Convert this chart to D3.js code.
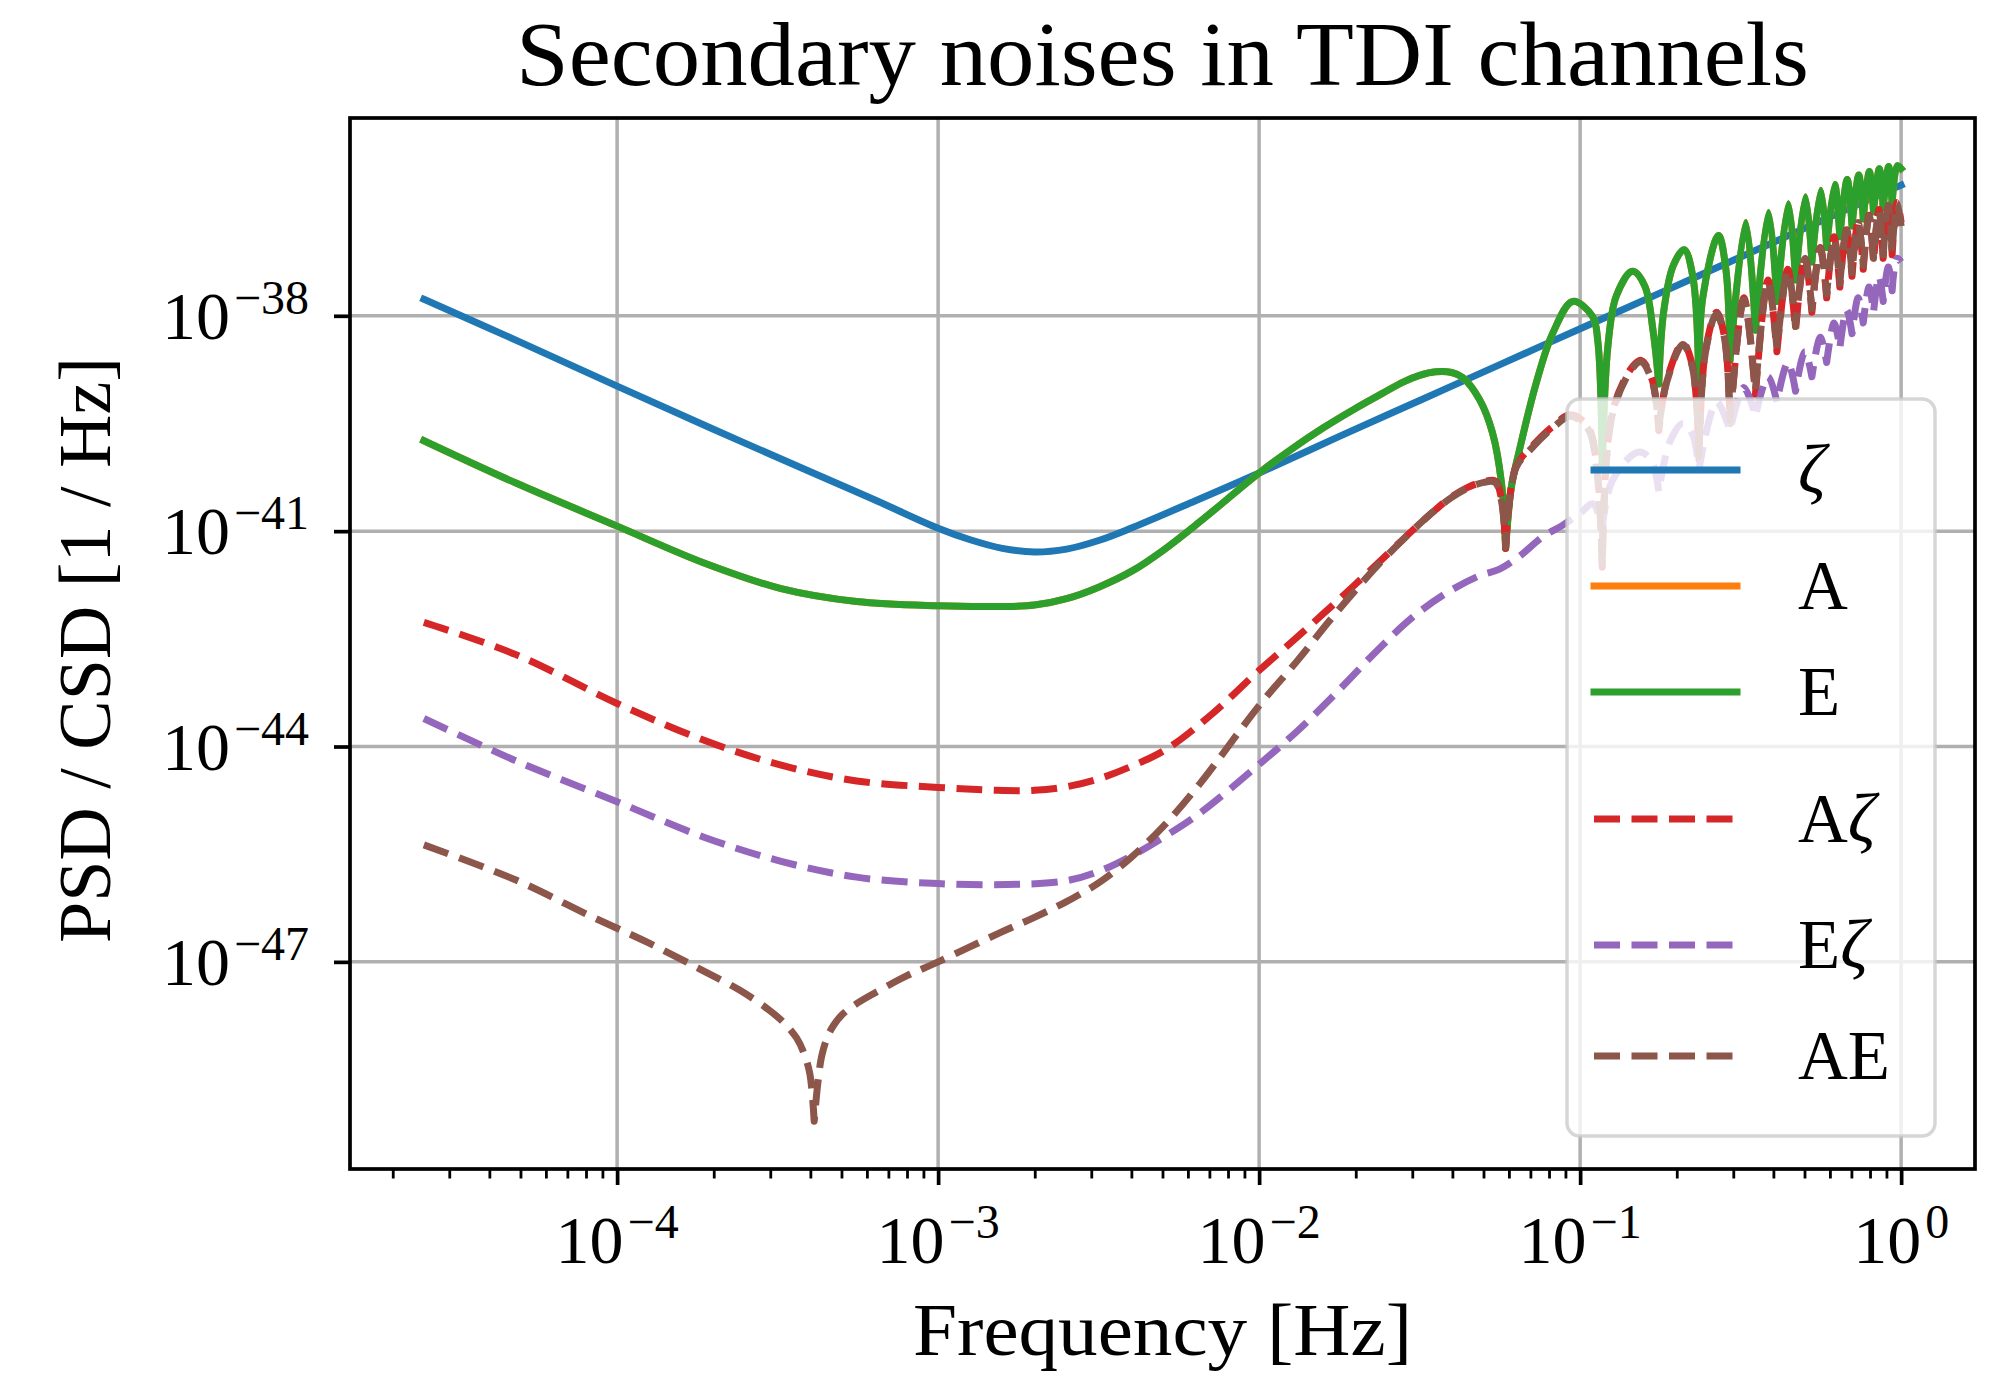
<!DOCTYPE html>
<html>
<head>
<meta charset="utf-8">
<script src="https://cdn.jsdelivr.net/npm/d3@7"></script>
<style>
  html, body { margin: 0; padding: 0; background: #ffffff; }
  svg { display: block; }
  text { font-family: "Liberation Serif", "Times New Roman", serif; fill: #000; }
</style>
</head>
<body>
<svg id="chart" width="1999" height="1376"></svg>
<script>
// ---------------------------------------------------------------
// Secondary noise PSD / CSD in the TDI channels.
// Each point is [log10(frequency / Hz), log10(PSD / (1/Hz))].
// ---------------------------------------------------------------

const psdZeta = [
  [-4.602, -37.77], [-4.30, -38.37], [-4.00, -38.98], [-3.70, -39.58],
  [-3.40, -40.17], [-3.20, -40.56], [-3.00, -40.96], [-2.90, -41.12],
  [-2.80, -41.24], [-2.70, -41.29], [-2.60, -41.25], [-2.50, -41.13],
  [-2.40, -40.96], [-2.20, -40.58], [-2.00, -40.19], [-1.75, -39.68],
  [-1.50, -39.18], [-1.25, -38.68], [-1.00, -38.18], [-0.75, -37.68],
  [-0.50, -37.18], [-0.25, -36.68], [0.00, -36.18]
];

const psdE = [
  [-4.602, -39.74], [-4.315, -40.33], [-4.00, -40.93], [-3.725, -41.45],
  [-3.489, -41.80], [-3.254, -41.98], [-3.00, -42.04], [-2.82, -42.05],
  [-2.70, -42.03], [-2.60, -41.94], [-2.50, -41.78], [-2.394, -41.55],
  [-2.30, -41.27], [-2.185, -40.87], [-2.00, -40.19], [-1.90, -39.86],
  [-1.80, -39.56], [-1.70, -39.29], [-1.616, -39.08], [-1.55, -38.92],
  [-1.50, -38.83], [-1.45, -38.78], [-1.40, -38.79], [-1.366, -38.86],
  [-1.313, -39.17], [-1.273, -39.63], [-1.245, -40.33],
  [-1.232, -41.24],
  [-1.214, -40.38], [-1.189, -39.87], [-1.137, -38.94], [-1.085, -38.24],
  [-1.023, -37.80], [-0.961, -38.01], [-0.945, -38.35],
  [-0.931, -40.10],
  [-0.913, -38.40], [-0.887, -37.72], [-0.837, -37.38], [-0.799, -37.58],
  [-0.773, -38.20],
  [-0.755, -38.95],
  [-0.740, -37.95], [-0.710, -37.30], [-0.676, -37.08], [-0.649, -37.45],
  [-0.630, -39.00],
  [-0.618, -37.75], [-0.569, -36.88], [-0.546, -37.35],
  [-0.533, -38.62],
  [-0.484, -36.70], [-0.454, -38.20], [-0.413, -36.56], [-0.387, -37.80],
  [-0.351, -36.44], [-0.329, -37.50], [-0.298, -36.34], [-0.278, -37.25],
  [-0.250, -36.25], [-0.232, -37.05], [-0.207, -36.17], [-0.191, -36.90],
  [-0.168, -36.10], [-0.153, -36.75], [-0.132, -36.04], [-0.118, -36.65],
  [-0.099, -35.99], [-0.086, -36.55], [-0.068, -35.95], [-0.056, -36.50],
  [-0.039, -35.92], [-0.028, -36.45], [-0.012, -35.91], [0.000, -35.95]
];

// A and E have the same secondary-noise PSD in this configuration.
const psdA = psdE;

const psdAZeta = [
  [-4.602, -42.27], [-4.315, -42.72], [-4.00, -43.40], [-3.725, -43.92],
  [-3.489, -44.26], [-3.254, -44.48], [-3.00, -44.57], [-2.82, -44.61],
  [-2.70, -44.61], [-2.60, -44.56], [-2.50, -44.45], [-2.40, -44.28],
  [-2.29, -44.04], [-2.15, -43.56], [-2.00, -42.94], [-1.90, -42.55],
  [-1.80, -42.15], [-1.70, -41.74], [-1.60, -41.32], [-1.52, -40.98],
  [-1.45, -40.70], [-1.40, -40.52], [-1.35, -40.39], [-1.30, -40.31],
  [-1.265, -40.30], [-1.245, -40.55],
  [-1.232, -41.24],
  [-1.20, -40.10], [-1.15, -39.82], [-1.085, -39.54], [-1.03, -39.38],
  [-0.975, -39.55], [-0.948, -40.10],
  [-0.931, -41.50],
  [-0.90, -39.35], [-0.837, -38.71], [-0.81, -38.62], [-0.775, -38.90],
  [-0.755, -39.60],
  [-0.73, -38.90], [-0.68, -38.38], [-0.65, -38.70],
  [-0.630, -40.00],
  [-0.61, -38.50], [-0.575, -37.95], [-0.55, -38.30],
  [-0.533, -39.50],
  [-0.49, -37.75], [-0.454, -39.10], [-0.415, -37.50], [-0.387, -38.50],
  [-0.353, -37.35], [-0.329, -38.20], [-0.300, -37.18], [-0.278, -37.95],
  [-0.252, -37.05], [-0.232, -37.75], [-0.209, -36.90], [-0.191, -37.60],
  [-0.170, -36.80], [-0.153, -37.45], [-0.134, -36.68], [-0.118, -37.35],
  [-0.100, -36.60], [-0.086, -37.25], [-0.069, -36.52], [-0.056, -37.20],
  [-0.040, -36.45], [-0.028, -37.15], [-0.013, -36.42], [0.000, -36.70]
];

const psdEZeta = [
  [-4.602, -43.61], [-4.315, -44.20], [-4.00, -44.77], [-3.725, -45.27],
  [-3.489, -45.60], [-3.254, -45.82], [-3.00, -45.91], [-2.75, -45.92],
  [-2.60, -45.87], [-2.50, -45.74], [-2.40, -45.53], [-2.30, -45.27],
  [-2.185, -44.93], [-2.00, -44.25], [-1.88, -43.78], [-1.77, -43.30],
  [-1.625, -42.63], [-1.522, -42.20], [-1.416, -41.86], [-1.313, -41.62],
  [-1.251, -41.53], [-1.189, -41.35], [-1.117, -41.08], [-1.055, -40.92],
  [-1.00, -40.75], [-0.96, -40.62],
  [-0.931, -40.95],
  [-0.90, -40.30], [-0.82, -39.90], [-0.78, -40.00],
  [-0.755, -40.45],
  [-0.72, -39.75], [-0.68, -39.50], [-0.65, -39.65],
  [-0.630, -40.15],
  [-0.575, -39.20], [-0.533, -39.60], [-0.490, -39.00], [-0.454, -39.40],
  [-0.415, -38.85], [-0.387, -39.20], [-0.353, -38.65], [-0.329, -39.05],
  [-0.300, -38.50], [-0.278, -38.85], [-0.252, -38.30], [-0.232, -38.65],
  [-0.209, -38.10], [-0.191, -38.45], [-0.170, -37.92], [-0.153, -38.25],
  [-0.134, -37.75], [-0.118, -38.10], [-0.100, -37.60], [-0.086, -37.95],
  [-0.069, -37.45], [-0.056, -37.80], [-0.040, -37.32], [-0.028, -37.65],
  [-0.013, -37.20], [0.000, -37.25]
];

const psdAE = [
  [-4.602, -45.37], [-4.315, -45.86], [-4.079, -46.37], [-3.90, -46.74],
  [-3.742, -47.10], [-3.62, -47.39], [-3.53, -47.66], [-3.48, -47.85],
  [-3.441, -48.06], [-3.42, -48.25], [-3.40, -48.55],
  [-3.386, -49.22],
  [-3.375, -48.70], [-3.363, -48.32], [-3.345, -48.05], [-3.325, -47.88],
  [-3.30, -47.74], [-3.26, -47.60], [-3.20, -47.44], [-3.10, -47.20],
  [-3.00, -47.00], [-2.81, -46.60], [-2.70, -46.38], [-2.60, -46.16],
  [-2.50, -45.90], [-2.40, -45.55], [-2.30, -45.12], [-2.185, -44.52],
  [-2.00, -43.43], [-1.88, -42.80], [-1.77, -42.19], [-1.625, -41.45],
  [-1.522, -40.99], [-1.45, -40.70], [-1.40, -40.53], [-1.35, -40.40],
  [-1.30, -40.32], [-1.265, -40.32], [-1.245, -40.58],
  [-1.232, -41.22],
  [-1.20, -40.12], [-1.15, -39.84], [-1.085, -39.56], [-1.03, -39.40],
  [-0.975, -39.58], [-0.948, -40.15],
  [-0.931, -41.45],
  [-0.90, -39.38], [-0.837, -38.73], [-0.81, -38.64], [-0.775, -38.92],
  [-0.755, -39.55],
  [-0.73, -38.92], [-0.68, -38.40], [-0.65, -38.72],
  [-0.630, -39.95],
  [-0.61, -38.52], [-0.575, -37.97], [-0.55, -38.32],
  [-0.533, -39.45],
  [-0.49, -37.78], [-0.454, -39.05], [-0.415, -37.52], [-0.387, -38.45],
  [-0.353, -37.37], [-0.329, -38.15], [-0.300, -37.20], [-0.278, -37.90],
  [-0.252, -37.06], [-0.232, -37.70], [-0.209, -36.92], [-0.191, -37.55],
  [-0.170, -36.81], [-0.153, -37.40], [-0.134, -36.70], [-0.118, -37.30],
  [-0.100, -36.61], [-0.086, -37.20], [-0.069, -36.53], [-0.056, -37.15],
  [-0.040, -36.46], [-0.028, -37.10], [-0.013, -36.43], [0.000, -36.75]
];

// Axis decades (exponents) that carry labels
const xTickExps = [-4, -3, -2, -1, 0];
const yTickExps = [-38, -41, -44, -47];

const titleText = "Secondary noises in TDI channels";
const xLabelText = "Frequency [Hz]";
const yLabelText = "PSD / CSD [1 / Hz]";

// Series, in drawing order; labels are lists of [text, italic] pieces
const seriesList = [
  { name: "zeta",  data: psdZeta,  color: "#1f77b4", dashed: false, label: [["ζ", true]] },
  { name: "A",     data: psdA,     color: "#ff7f0e", dashed: false, label: [["A", false]] },
  { name: "E",     data: psdE,     color: "#2ca02c", dashed: false, label: [["E", false]] },
  { name: "Azeta", data: psdAZeta, color: "#d62728", dashed: true,  label: [["A", false], ["ζ", true]] },
  { name: "Ezeta", data: psdEZeta, color: "#9467bd", dashed: true,  label: [["E", false], ["ζ", true]] },
  { name: "AE",    data: psdAE,    color: "#8c564b", dashed: true,  label: [["AE", false]] }
];

// ---------------------------------------------------------------
// Layout
// ---------------------------------------------------------------
const plot = { left: 350, right: 1975, top: 118, bottom: 1169 };
const LW = 7;                 // curve line width
const DASH = "26,11.5";       // dashed pattern

const svg = d3.select("#chart");

// log-space extents with 5% margins on each side
const allPts = seriesList.flatMap(s => s.data);
function padded(ext) { const m = (ext[1] - ext[0]) * 0.05; return [ext[0] - m, ext[1] + m]; }
const xLog = padded(d3.extent(allPts, d => d[0]));
const yLog = padded(d3.extent(allPts, d => d[1]));

const x = d3.scaleLog().domain(xLog.map(v => Math.pow(10, v))).range([plot.left, plot.right]);
const y = d3.scaleLog().domain(yLog.map(v => Math.pow(10, v))).range([plot.bottom, plot.top]);

// clip region
svg.append("defs").append("clipPath").attr("id", "plotClip")
  .append("rect")
  .attr("x", plot.left).attr("y", plot.top)
  .attr("width", plot.right - plot.left).attr("height", plot.bottom - plot.top);

// ---------------------------------------------------------------
// Grid
// ---------------------------------------------------------------
const xMajor = xTickExps.map(e => Math.pow(10, e));
const yMajor = yTickExps.map(e => Math.pow(10, e));
const xMinor = [];
for (let e = -6; e <= 1; e++) {
  for (let k = 2; k <= 9; k++) {
    const v = k * Math.pow(10, e);
    if (v > x.domain()[0] && v < x.domain()[1]) xMinor.push(v);
  }
}

const grid = svg.append("g").attr("class", "grid")
  .attr("stroke", "#b0b0b0").attr("stroke-width", 3.5);
grid.selectAll("line.gx").data(xMajor).enter().append("line")
  .attr("class", "gx")
  .attr("x1", d => x(d)).attr("x2", d => x(d))
  .attr("y1", plot.top).attr("y2", plot.bottom);
grid.selectAll("line.gy").data(yMajor).enter().append("line")
  .attr("class", "gy")
  .attr("x1", plot.left).attr("x2", plot.right)
  .attr("y1", d => y(d)).attr("y2", d => y(d));

// ---------------------------------------------------------------
// Curves: smooth pieces, joined with sharp corners at the notches
// ---------------------------------------------------------------
const lineGen = d3.line()
  .x(d => x(d.f)).y(d => y(d.s))
  .curve(d3.curveCatmullRom.alpha(0.5));

function buildPath(raw) {
  const pts = raw.map(([lf, ls]) => ({ f: Math.pow(10, lf), s: Math.pow(10, ls), ls }));
  const pieces = [];
  let cur = [pts[0]];
  for (let i = 1; i < pts.length; i++) {
    cur.push(pts[i]);
    const isNotch = i < pts.length - 1 &&
      pts[i].ls < pts[i - 1].ls - 0.25 && pts[i].ls < pts[i + 1].ls - 0.25;
    if (isNotch) { pieces.push(cur); cur = [pts[i]]; }
  }
  pieces.push(cur);
  return pieces.map((p, k) => {
    const d = lineGen(p);
    return k === 0 ? d : d.replace(/^M[^A-Za-z]*/, "");
  }).join("");
}

const curves = svg.append("g").attr("clip-path", "url(#plotClip)");
seriesList.forEach(s => {
  curves.append("path")
    .attr("d", buildPath(s.data))
    .attr("fill", "none")
    .attr("stroke", s.color)
    .attr("stroke-width", LW)
    .attr("stroke-linejoin", "round")
    .attr("stroke-linecap", s.dashed ? "butt" : "square")
    .attr("stroke-dasharray", s.dashed ? DASH : null);
});

// ---------------------------------------------------------------
// Frame and ticks
// ---------------------------------------------------------------
svg.append("rect")
  .attr("x", plot.left).attr("y", plot.top)
  .attr("width", plot.right - plot.left).attr("height", plot.bottom - plot.top)
  .attr("fill", "none").attr("stroke", "#000").attr("stroke-width", 3.7);

function styleAxis(g, w) {
  g.select(".domain").remove();
  g.selectAll(".tick line").attr("stroke", "#000").attr("stroke-width", w);
  g.selectAll(".tick text").remove();
}

svg.append("g").attr("transform", `translate(0,${plot.bottom})`)
  .call(d3.axisBottom(x).tickValues(xMinor).tickSize(9.5).tickFormat(() => ""))
  .call(g => styleAxis(g, 2.8));
svg.append("g").attr("transform", `translate(0,${plot.bottom})`)
  .call(d3.axisBottom(x).tickValues(xMajor).tickSize(16).tickFormat(() => ""))
  .call(g => styleAxis(g, 3.7));
svg.append("g").attr("transform", `translate(${plot.left},0)`)
  .call(d3.axisLeft(y).tickValues(yMajor).tickSize(16).tickFormat(() => ""))
  .call(g => styleAxis(g, 3.7));

// tick labels written as 10 with a superscript exponent
function powerLabel(sel, exp) {
  sel.append("tspan").text("10");
  sel.append("tspan")
    .attr("font-size", 48)
    .attr("dx", 4)
    .attr("dy", -25)
    .text(exp < 0 ? "\u2212" + Math.abs(exp) : String(exp));
}

svg.append("g").selectAll("text").data(xTickExps).enter().append("text")
  .attr("x", d => x(Math.pow(10, d)))
  .attr("y", 1263)
  .attr("font-size", 68)
  .attr("text-anchor", "middle")
  .each(function (d) { powerLabel(d3.select(this), d); });

svg.append("g").selectAll("text").data(yTickExps).enter().append("text")
  .attr("x", 309)
  .attr("y", d => y(Math.pow(10, d)) + 23)
  .attr("font-size", 68)
  .attr("text-anchor", "end")
  .each(function (d) { powerLabel(d3.select(this), d); });

// ---------------------------------------------------------------
// Titles
// ---------------------------------------------------------------
const midX = (plot.left + plot.right) / 2;
svg.append("text")
  .attr("x", midX).attr("y", 85)
  .attr("font-size", 92)
  .attr("text-anchor", "middle")
  .attr("textLength", 1293).attr("lengthAdjust", "spacingAndGlyphs")
  .text(titleText);

svg.append("text")
  .attr("x", midX).attr("y", 1355)
  .attr("font-size", 74)
  .attr("text-anchor", "middle")
  .attr("textLength", 499).attr("lengthAdjust", "spacingAndGlyphs")
  .text(xLabelText);

svg.append("text")
  .attr("transform", `translate(110,650) rotate(-90)`)
  .attr("font-size", 75)
  .attr("text-anchor", "middle")
  .attr("textLength", 586).attr("lengthAdjust", "spacingAndGlyphs")
  .text(yLabelText);

// ---------------------------------------------------------------
// Legend
// ---------------------------------------------------------------
const legendBox = { x: 1567, y: 399, w: 368, h: 737 };
const legendRows = [470, 586, 692, 819, 945, 1056];
const legend = svg.append("g");
legend.append("rect")
  .attr("x", legendBox.x).attr("y", legendBox.y)
  .attr("width", legendBox.w).attr("height", legendBox.h)
  .attr("rx", 13).attr("ry", 13)
  .attr("fill", "#ffffff").attr("fill-opacity", 0.8)
  .attr("stroke", "#cccccc").attr("stroke-opacity", 0.8).attr("stroke-width", 3.5);

seriesList.forEach((s, i) => {
  const ry = legendRows[i];
  legend.append("line")
    .attr("x1", 1594).attr("x2", 1737)
    .attr("y1", ry).attr("y2", ry)
    .attr("stroke", s.color)
    .attr("stroke-width", LW)
    .attr("stroke-linecap", s.dashed ? "butt" : "square")
    .attr("stroke-dasharray", s.dashed ? DASH : null);
  const t = legend.append("text")
    .attr("x", 1798).attr("y", ry + 23)
    .attr("font-size", 69);
  s.label.forEach(([txt, it]) => {
    t.append("tspan").attr("font-style", it ? "italic" : "normal").text(txt);
  });
});
</script>
</body>
</html>
